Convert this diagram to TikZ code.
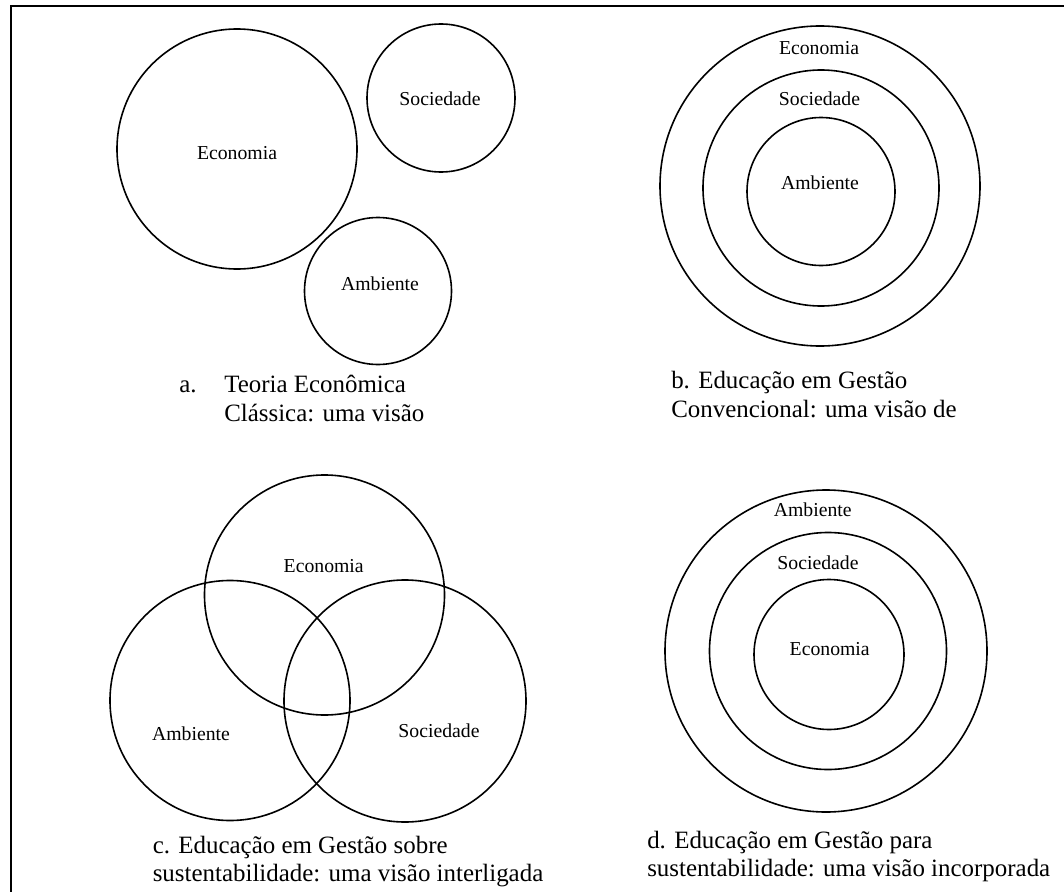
\documentclass[tikz,border=0pt]{standalone}
\usepackage{fontspec}
\setmainfont{Liberation Serif}
\usetikzlibrary{positioning}

\tikzset{
  ring/.style={draw, circle, line width=1.2pt, inner sep=0pt, minimum size=#1*1.5pt},
  tag/.style={inner sep=0pt, font=\fontsize{14.8}{17}\selectfont},
  capline/.style={inner sep=0pt, anchor=base west, font=\fontsize{18.7}{22}\selectfont},
}

\begin{document}
\begin{tikzpicture}[x=0.75pt, y=-0.75pt]
\useasboundingbox (0,0) rectangle (1064,892);

\coordinate (tr) at (1064,6.5);
\coordinate (tl) at (10.5,6.5);
\coordinate (bl) at (10.5,892);
\draw[line width=1.5pt] (tr) -- (tl) -- (bl);

\node[ring=120] (ecoA) at (237,149) {};
\node[ring=74] (socA) at (441,98) {};
\node[ring=73.5] (ambA) at (378,291) {};
\node[tag] (ecoAt) at (237,153) {Economia};
\node[tag] (socAt) at (440,99) {Sociedade};
\node[tag] (ambAt) at (380,284) {Ambiente};
\node[capline] (capA0) at (179,392.6) {a.};
\node[capline] (capA1) at (224,392.6) {Teoria Econômica};
\node[capline] (capA2) at (224,421.8) {Clássica: uma visão};

\node[ring=160] (ecoB) at (820,186) {};
\node[ring=118] (socB) at (821,188) {};
\node[ring=74] (ambB) at (821,191.5) {};
\node[tag] (ecoBt) at (819,47.7) {Economia};
\node[tag] (socBt) at (819.5,98.8) {Sociedade};
\node[tag] (ambBt) at (820,183) {Ambiente};
\node[capline] (capB1) at (671,388) {b. Educação em Gestão};
\node[capline] (capB2) at (671,417) {Convencional: uma visão de};

\node[ring=120] (ecoC) at (324.5,595) {};
\node[ring=120] (ambC) at (230,700.5) {};
\node[ring=121] (socC) at (405,701) {};
\node[tag] (ecoCt) at (323.7,566) {Economia};
\node[tag] (ambCt) at (191,733.7) {Ambiente};
\node[tag] (socCt) at (439,731) {Sociedade};
\node[capline] (capC1) at (152.5,853.5) {c. Educação em Gestão sobre};
\node[capline] (capC2) at (152.5,881.8) {sustentabilidade: uma visão interligada};

\node[ring=161] (ambD) at (826,651) {};
\node[ring=118.5] (socD) at (828,651) {};
\node[ring=75] (ecoD) at (829,654.5) {};
\node[tag] (ambDt) at (812.7,510) {Ambiente};
\node[tag] (socDt) at (818,562.8) {Sociedade};
\node[tag] (ecoDt) at (829.7,648.7) {Economia};
\node[capline] (capD1) at (647,848) {d. Educação em Gestão para};
\node[capline] (capD2) at (647,876) {sustentabilidade: uma visão incorporada};

\end{tikzpicture}
\end{document}
